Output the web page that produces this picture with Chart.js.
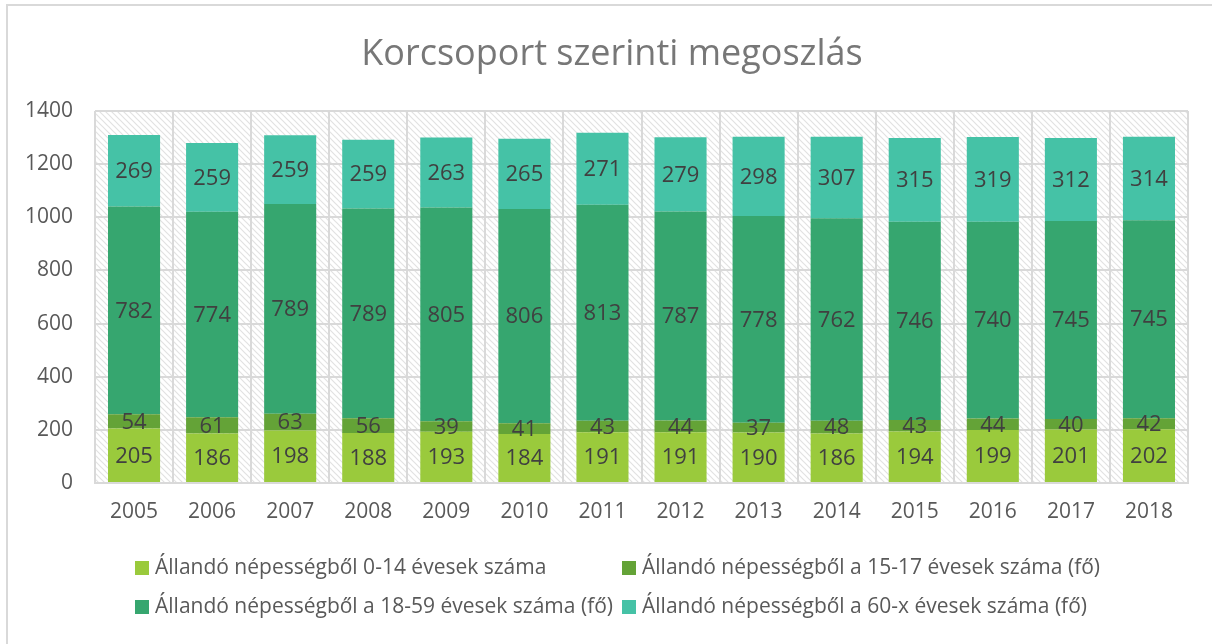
<!DOCTYPE html>
<html>
<head>
<meta charset="utf-8">
<script src="https://cdn.jsdelivr.net/npm/chart.js@4"></script>
<style>
  html, body { margin: 0; padding: 0; background: #fff; }
  #wrap { width: 1212px; height: 644px; position: relative; }
</style>
</head>
<body>
<div id="wrap"><canvas id="ageChart"></canvas></div>
<script>
// Years and series (fő)
const years = ['2005', '2006', '2007', '2008', '2009', '2010', '2011', '2012', '2013', '2014', '2015', '2016', '2017', '2018'];
const age0to14 = [205, 186, 198, 188, 193, 184, 191, 191, 190, 186, 194, 199, 201, 202];
const age15to17 = [54, 61, 63, 56, 39, 41, 43, 44, 37, 48, 43, 44, 40, 42];
const age18to59 = [782, 774, 789, 789, 805, 806, 813, 787, 778, 762, 746, 740, 745, 745];
const age60plus = [269, 259, 259, 259, 263, 265, 271, 279, 298, 307, 315, 319, 312, 314];

const chartTitle = 'Korcsoport szerinti megoszlás';
const seriesNames = [
    'Állandó népességből 0-14 évesek száma',
    'Állandó népességből a 15-17 évesek száma (fő)',
    'Állandó népességből a 18-59 évesek száma (fő)',
    'Állandó népességből a 60-x évesek száma (fő)'
];
const seriesColors = ['#9aca3c', '#64a337', '#36a66f', '#45c2a6'];

const FONT = '"Open Sans", "Noto Sans", sans-serif';
const GRID = '#d9d9d9';

// diagonal hatch for the plot area
function makeHatch(ctx) {
    const c = document.createElement('canvas');
    c.width = 6; c.height = 6;
    const g = c.getContext('2d');
    g.fillStyle = '#ffffff';
    g.fillRect(0, 0, 6, 6);
    g.strokeStyle = '#e2e2e2';
    g.lineWidth = 1.2;
    g.beginPath();
    g.moveTo(-1, -1); g.lineTo(7, 7);
    g.moveTo(-1, 5); g.lineTo(1, 7);
    g.moveTo(5, -1); g.lineTo(7, 1);
    g.stroke();
    return ctx.createPattern(c, 'repeat');
}

const hatchPlugin = {
    id: 'hatch',
    beforeDraw(chart) {
        const { ctx, chartArea: a } = chart;
        ctx.save();
        ctx.fillStyle = makeHatch(ctx);
        ctx.fillRect(a.left, a.top, a.right - a.left, a.bottom - a.top);
        // outer frame (left and top edges visible)
        ctx.strokeStyle = GRID;
        ctx.lineWidth = 2;
        ctx.beginPath();
        ctx.moveTo(7, 644); ctx.lineTo(7, 5); ctx.lineTo(1212, 5);
        ctx.stroke();
        // title, centred on the whole frame
        ctx.font = '36px ' + FONT;
        ctx.fillStyle = '#777777';
        ctx.textAlign = 'center';
        ctx.textBaseline = 'middle';
        ctx.fillText(chartTitle, 612, 55);
        ctx.restore();
    }
};

const valueLabels = {
    id: 'valueLabels',
    afterDatasetsDraw(chart) {
        const ctx = chart.ctx;
        ctx.save();
        ctx.font = '22px ' + FONT;
        ctx.fillStyle = '#404040';
        ctx.textAlign = 'center';
        ctx.textBaseline = 'middle';
        chart.data.datasets.forEach((ds, i) => {
            chart.getDatasetMeta(i).data.forEach((bar, j) => {
                ctx.fillText(String(ds.data[j]), bar.x, (bar.y + bar.base) / 2 + 1);
            });
        });
        ctx.restore();
    }
};

const columnLegend = {
    id: 'columnLegend',
    afterDraw(chart) {
        const ctx = chart.ctx;
        const cols = [135, 622];
        const rows = [568, 607];
        ctx.save();
        ctx.font = '21px ' + FONT;
        ctx.textBaseline = 'middle';
        ctx.textAlign = 'left';
        seriesNames.forEach((name, i) => {
            const x = cols[i % 2], y = rows[Math.floor(i / 2)];
            ctx.fillStyle = seriesColors[i];
            ctx.fillRect(x, y - 7, 14, 14);
            ctx.fillStyle = '#595959';
            ctx.fillText(name, x + 20, y);
        });
        ctx.restore();
    }
};

const seriesData = [age0to14, age15to17, age18to59, age60plus];

new Chart(document.getElementById('ageChart'), {
    type: 'bar',
    data: {
        labels: years,
        datasets: seriesData.map((d, i) => ({
            label: seriesNames[i],
            data: d,
            backgroundColor: seriesColors[i],
            borderWidth: 0,
            categoryPercentage: 1,
            barPercentage: 0.667
        }))
    },
    options: {
        responsive: true,
        maintainAspectRatio: false,
        animation: false,
        layout: { padding: { left: 0, right: 24, top: 111, bottom: 111 } },
        scales: {
            x: {
                stacked: true,
                grid: { color: GRID, lineWidth: 2, drawTicks: false },
                border: { color: GRID, width: 2 },
                ticks: { color: '#595959', font: { family: FONT, size: 21 }, padding: 16 },
                afterFit: s => { s.height = 50; }
            },
            y: {
                stacked: true,
                min: 0, max: 1400,
                ticks: {
                    stepSize: 200, color: '#595959', font: { family: FONT, size: 21 }, padding: 22,
                    callback: v => String(v)
                },
                grid: { color: GRID, lineWidth: 2, drawTicks: false },
                border: { display: false },
                afterFit: s => { s.width = 95; }
            }
        },
        plugins: {
            legend: { display: false },
            tooltip: { enabled: false },
            title: { display: false }
        }
    },
    plugins: [hatchPlugin, valueLabels, columnLegend]
});
</script>
</body>
</html>
